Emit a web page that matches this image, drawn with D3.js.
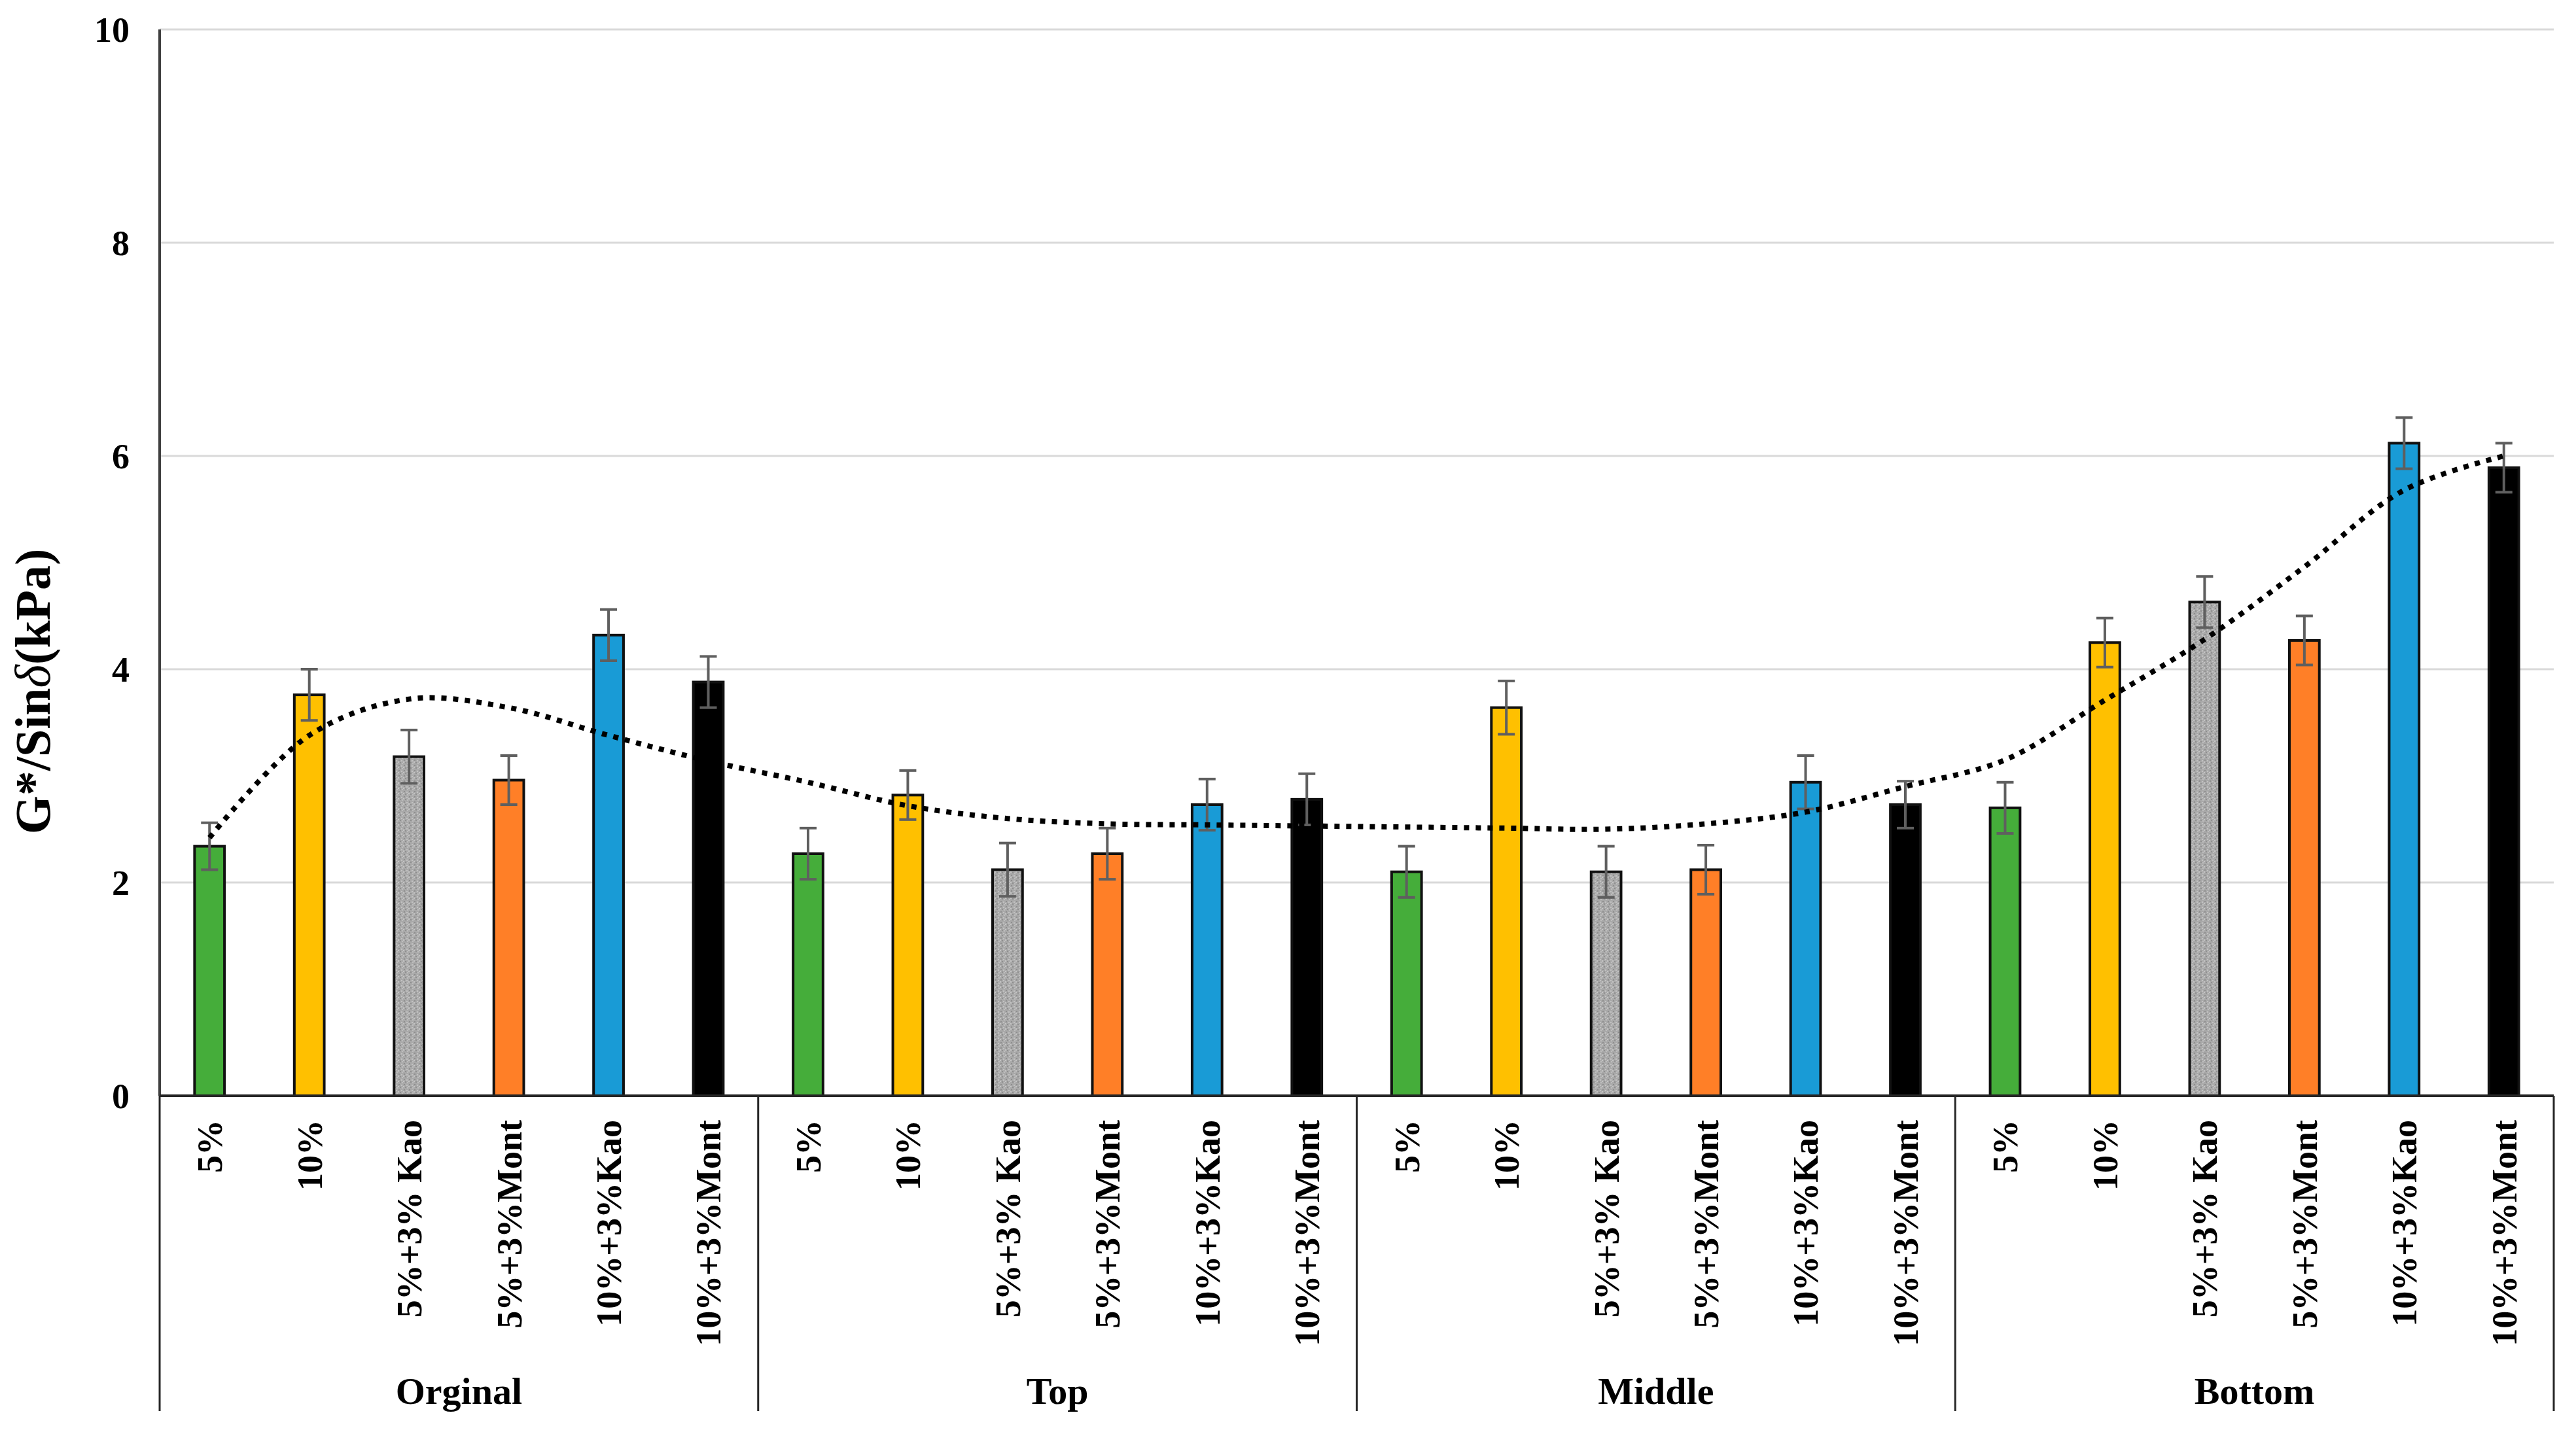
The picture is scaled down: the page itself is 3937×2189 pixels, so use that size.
<!DOCTYPE html>
<html>
<head>
<meta charset="utf-8">
<script src="https://cdn.jsdelivr.net/npm/d3@7"></script>
<style>
  html, body { margin: 0; padding: 0; background: #fff; }
  text { font-family: "Liberation Serif", "Times New Roman", serif; font-weight: bold; fill: #000; }
</style>
</head>
<body>
<svg id="chart" width="3937" height="2189"></svg>
<script>
// groups and mixes along the category axis
const groups = ["Orginal", "Top", "Middle", "Bottom"];
const mixes = ["5%", "10%", "5%+3% Kao", "5%+3%Mont", "10%+3%Kao", "10%+3%Mont"];
const mixColors = ["#45ad3a", "#ffc000", "#a9a9a9", "#ff7f27", "#199bd6", "#000000"];

// G*/Sin(delta) values, kPa
const orginalVals = [2.34, 3.76, 3.18, 2.96, 4.32, 3.88];
const topVals     = [2.27, 2.82, 2.12, 2.27, 2.73, 2.78];
const middleVals  = [2.10, 3.64, 2.10, 2.12, 2.94, 2.73];
const bottomVals  = [2.70, 4.25, 4.63, 4.27, 6.12, 5.89];

// error bar half-widths
const orginalErr = [0.22, 0.24, 0.25, 0.23, 0.24, 0.24];
const topErr     = [0.24, 0.23, 0.25, 0.24, 0.24, 0.24];
const middleErr  = [0.24, 0.25, 0.24, 0.23, 0.25, 0.22];
const bottomErr  = [0.24, 0.23, 0.24, 0.23, 0.24, 0.23];

// dotted trend line, read at each bar position
const orginalTrend = [2.42, 3.38, 3.72, 3.64, 3.38, 3.14];
const topTrend     = [2.94, 2.72, 2.60, 2.55, 2.54, 2.53];
const middleTrend  = [2.52, 2.51, 2.50, 2.55, 2.66, 2.90];
const bottomTrend  = [3.15, 3.71, 4.28, 4.96, 5.68, 6.00];

const yTicks = [0, 2, 4, 6, 8, 10];

var valsByGroup = [orginalVals, topVals, middleVals, bottomVals];
var errByGroup = [orginalErr, topErr, middleErr, bottomErr];
var trendByGroup = [orginalTrend, topTrend, middleTrend, bottomTrend];

var rows = [];
groups.forEach(function(g, gi) {
    mixes.forEach(function(m, mi) {
        rows.push({
            key: g + "|" + m, group: g, mix: m, mi: mi,
            value: valsByGroup[gi][mi],
            err: errByGroup[gi][mi],
            trend: trendByGroup[gi][mi]
        });
    });
});

var plotLeft = 244, plotRight = 3903, plotTop = 45, plotBase = 1675, axisBottom = 2157;

var svg = d3.select("#chart");

var x = d3.scaleBand().domain(rows.map(d => d.key)).range([plotLeft, plotRight]).padding(0);
var xg = d3.scaleBand().domain(groups).range([plotLeft, plotRight]).padding(0);
var y = d3.scaleLinear().domain([0, 10]).range([plotBase, plotTop]);
var barW = x.bandwidth() * 0.3;

// speckled fill for the grey bars
var defs = svg.append("defs");
var pat = defs.append("pattern")
    .attr("id", "speckle")
    .attr("patternUnits", "userSpaceOnUse")
    .attr("width", 8).attr("height", 8);
pat.append("rect").attr("width", 8).attr("height", 8).attr("fill", "#a9a9a9");
[[1, 1, "#8f8f8f"], [5, 2, "#c2c2c2"], [3, 5, "#8f8f8f"], [6, 6, "#bdbdbd"], [0, 4, "#c4c4c4"]].forEach(function(p) {
    pat.append("rect").attr("x", p[0]).attr("y", p[1]).attr("width", 2).attr("height", 2).attr("fill", p[2]);
});

// gridlines
svg.append("g")
    .selectAll("line")
    .data(yTicks.filter(t => t > 0))
    .enter()
    .append("line")
    .attr("x1", plotLeft).attr("x2", plotRight)
    .attr("y1", d => y(d)).attr("y2", d => y(d))
    .attr("stroke", "#d9d9d9")
    .attr("stroke-width", 3);

// y tick labels
svg.append("g")
    .selectAll("text")
    .data(yTicks)
    .enter()
    .append("text")
    .attr("x", 198)
    .attr("y", d => y(d))
    .attr("dy", "0.35em")
    .attr("text-anchor", "end")
    .style("font-size", "54px")
    .text(d => d);

// y axis title
var yt = svg.append("text")
    .attr("transform", "translate(76," + ((831 + 1283) / 2) + ") rotate(-90)")
    .attr("text-anchor", "middle")
    .style("font-size", "76px");
yt.append("tspan").text("G*/Sin");
yt.append("tspan").style("font-style", "italic").style("font-weight", "normal").text("\u03b4");
yt.append("tspan").text("(kPa)");

// bars
svg.append("g")
    .selectAll("rect")
    .data(rows)
    .enter()
    .append("rect")
    .attr("x", d => x(d.key) + (x.bandwidth() - barW) / 2)
    .attr("y", d => y(d.value))
    .attr("width", barW)
    .attr("height", d => plotBase - y(d.value))
    .attr("fill", d => d.mi === 2 ? "url(#speckle)" : mixColors[d.mi])
    .attr("stroke", "#111")
    .attr("stroke-width", 4);

// error bars
var eb = svg.append("g")
    .attr("stroke", "#5f5f5f")
    .attr("stroke-width", 4)
    .selectAll("g")
    .data(rows)
    .enter()
    .append("g");
eb.append("line")
    .attr("x1", d => x(d.key) + x.bandwidth() / 2)
    .attr("x2", d => x(d.key) + x.bandwidth() / 2)
    .attr("y1", d => y(d.value - d.err))
    .attr("y2", d => y(d.value + d.err));
eb.selectAll(".cap")
    .data(d => [d.value - d.err, d.value + d.err].map(v => ({ key: d.key, v: v })))
    .enter()
    .append("line")
    .attr("x1", d => x(d.key) + x.bandwidth() / 2 - 13)
    .attr("x2", d => x(d.key) + x.bandwidth() / 2 + 13)
    .attr("y1", d => y(d.v))
    .attr("y2", d => y(d.v));

// dotted trend line
var trendLine = d3.line()
    .x(d => x(d.key) + x.bandwidth() / 2)
    .y(d => y(d.trend))
    .curve(d3.curveCatmullRom.alpha(0.5));
svg.append("path")
    .datum(rows)
    .attr("d", trendLine)
    .attr("fill", "none")
    .attr("stroke", "#000")
    .attr("stroke-width", 8)
    .attr("stroke-dasharray", "8 10");

// axis lines
svg.append("line")
    .attr("x1", plotLeft).attr("x2", plotLeft)
    .attr("y1", plotTop).attr("y2", plotBase)
    .attr("stroke", "#404040")
    .attr("stroke-width", 4);
svg.append("line")
    .attr("x1", plotLeft).attr("x2", plotRight)
    .attr("y1", plotBase).attr("y2", plotBase)
    .attr("stroke", "#262626")
    .attr("stroke-width", 4);

// group separators under the axis
svg.append("g")
    .selectAll("line")
    .data(groups.map(g => xg(g)).concat([plotRight]))
    .enter()
    .append("line")
    .attr("x1", d => d).attr("x2", d => d)
    .attr("y1", plotBase).attr("y2", axisBottom)
    .attr("stroke", "#262626")
    .attr("stroke-width", 3);

// category labels, rotated
svg.append("g")
    .selectAll("text")
    .data(rows)
    .enter()
    .append("text")
    .attr("transform", d => "translate(" + (x(d.key) + x.bandwidth() / 2) + ",1712) rotate(-90)")
    .attr("dy", "0.35em")
    .attr("text-anchor", "end")
    .style("font-size", "54px")
    .text(d => d.mix);

// group labels
svg.append("g")
    .selectAll("text")
    .data(groups)
    .enter()
    .append("text")
    .attr("x", d => xg(d) + xg.bandwidth() / 2)
    .attr("y", 2146)
    .attr("text-anchor", "middle")
    .style("font-size", "58px")
    .text(d => d);
</script>
</body>
</html>
